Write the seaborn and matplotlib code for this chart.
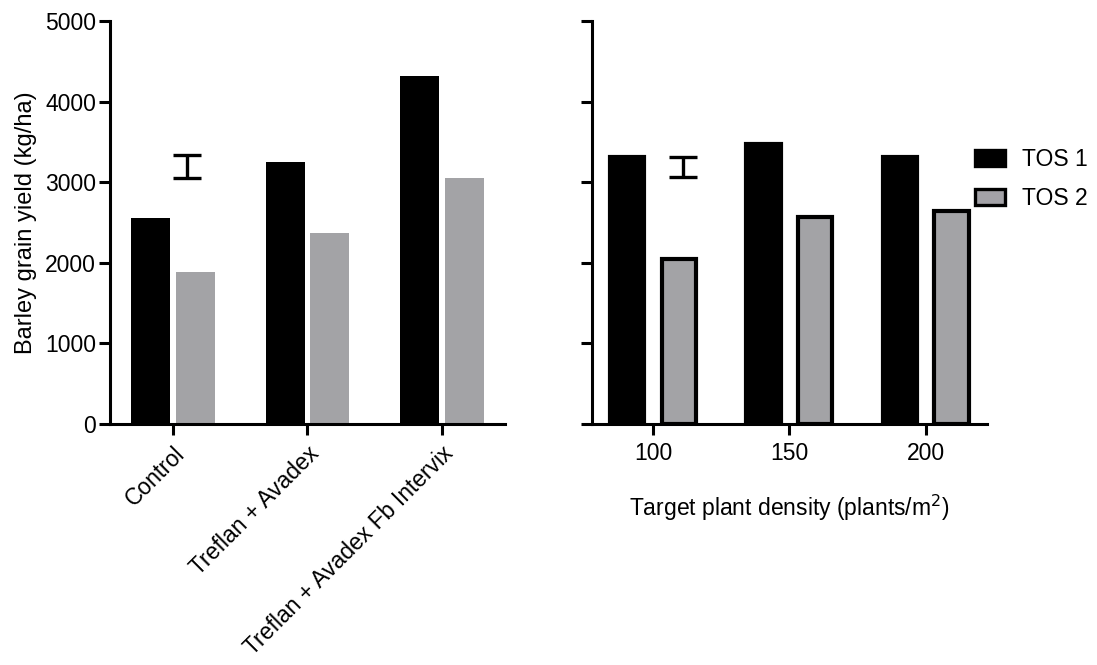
import pandas as pd
import matplotlib.pyplot as plt
import seaborn as sns
from matplotlib.patches import Patch

# data
herbicides = ["Control", "Treflan + Avadex", "Treflan + Avadex Fb Intervix"]
herb_tos1 = [2560, 3250, 4320]
herb_tos2 = [1890, 2370, 3055]

densities = ["100", "150", "200"]
dens_tos1 = [3315, 3470, 3315]
dens_tos2 = [2050, 2570, 2645]

series = ["TOS 1", "TOS 2"]

# LSD bars (centre, full length)
herb_lsd_mid, herb_lsd = 3195, 285
dens_lsd_mid, dens_lsd = 3190, 250

grey = "#a3a2a7"

herb_df = pd.DataFrame({
    "group": herbicides * 2,
    "yield": herb_tos1 + herb_tos2,
    "TOS": [series[0]] * 3 + [series[1]] * 3,
})
dens_df = pd.DataFrame({
    "group": densities * 2,
    "yield": dens_tos1 + dens_tos2,
    "TOS": [series[0]] * 3 + [series[1]] * 3,
})

sns.set_style("ticks")
plt.rcParams["font.family"] = ["Liberation Sans", "DejaVu Sans"]
plt.rcParams["font.size"] = 16.5
plt.rcParams["text.color"] = "black"
plt.rcParams["axes.labelcolor"] = "black"
plt.rcParams["xtick.color"] = "black"
plt.rcParams["ytick.color"] = "black"
plt.rcParams["axes.edgecolor"] = "black"

fig = plt.figure(figsize=(10.97, 6.65), dpi=100)
ax1 = fig.add_axes([0.1003, 0.3624, 0.36, 0.606])
ax2 = fig.add_axes([0.5397, 0.3624, 0.36, 0.606])

sns.barplot(data=herb_df, x="group", y="yield", hue="TOS",
            palette=["black", grey], width=0.667, gap=0.13,
            linewidth=0, ax=ax1, legend=False)
sns.barplot(data=dens_df, x="group", y="yield", hue="TOS",
            palette=["black", grey], width=0.76, gap=0.34,
            edgecolor="black", linewidth=3, ax=ax2, legend=False)

ax1.errorbar([0.1], [herb_lsd_mid], yerr=herb_lsd / 2, fmt="none",
             ecolor="black", elinewidth=2.4, capsize=10, capthick=2.4)
ax2.errorbar([0.22], [dens_lsd_mid], yerr=dens_lsd / 2, fmt="none",
             ecolor="black", elinewidth=2.4, capsize=10, capthick=2.4)

for ax in (ax1, ax2):
    ax.set_ylim(0, 5000)
    ax.set_yticks([0, 1000, 2000, 3000, 4000, 5000])
    sns.despine(ax=ax)
    for s in ("left", "bottom"):
        ax.spines[s].set_linewidth(2.2)
    ax.tick_params(width=2.2, length=8, labelsize=16.5, pad=2)
    ax.tick_params(axis="x", pad=5)

ax1.set_xlim(-0.47, 2.47)
ax2.set_xlim(-0.447, 2.45)

ax1.set_ylabel("Barley grain yield (kg/ha)", fontsize=17, labelpad=6)
ax1.set_xlabel("")
ax1.set_xticks(range(len(herbicides)))
ax1.set_xticklabels(herbicides, rotation=45, ha="right", rotation_mode="anchor",
                    fontsize=16.5)

ax2.set_ylabel("")
ax2.set_yticklabels([])
ax2.set_xlabel("Target plant density (plants/m$^2$)", fontsize=16.5, labelpad=20)

handles = [Patch(facecolor="black", edgecolor="black", linewidth=2.4),
           Patch(facecolor=grey, edgecolor="black", linewidth=2.4)]
fig.legend(handles, series, loc="upper left", bbox_to_anchor=(0.87, 0.808),
           frameon=False, fontsize=16.5, handlelength=1.3, handleheight=0.7,
           labelspacing=0.7, handletextpad=0.75)

fig.savefig("out.png", dpi=100)
